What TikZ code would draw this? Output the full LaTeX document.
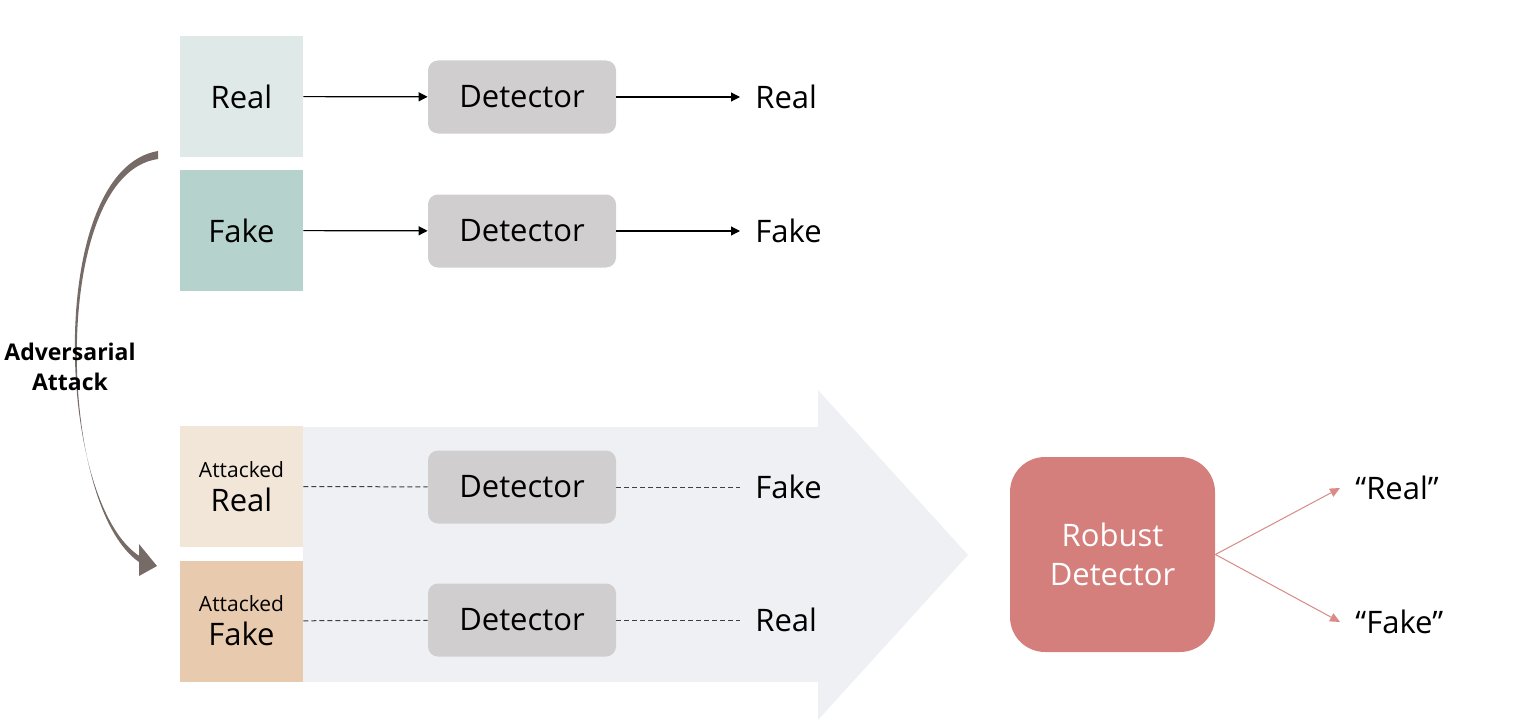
\documentclass[tikz,border=0pt]{standalone}
\usepackage{fontspec}
\setmainfont{Open Sans}
\usetikzlibrary{arrows.meta}

\definecolor{realcol}{HTML}{DFE9E7}
\definecolor{fakecol}{HTML}{B5D3CC}
\definecolor{atkrealcol}{HTML}{F1E6D8}
\definecolor{atkfakecol}{HTML}{E8CBAE}
\definecolor{detcol}{HTML}{D0CECE}
\definecolor{robustcol}{HTML}{D47F7C}
\definecolor{flowcol}{HTML}{EFF0F4}
\definecolor{attackcol}{HTML}{766B67}
\definecolor{splitcol}{HTML}{D98B88}

\tikzset{
  imgbox/.style={rectangle, minimum width=61.5pt, minimum height=60.5pt, inner sep=0pt, align=center, font=\fontsize{15.5}{19}\selectfont},
  detbox/.style={rectangle, rounded corners=5pt, fill=detcol, minimum width=94pt, minimum height=36.5pt, font=\fontsize{15.5}{19}\selectfont},
  outlabel/.style={anchor=west, inner xsep=7.5pt, inner ysep=0pt, font=\fontsize{15.5}{19}\selectfont},
  pass/.style={-{Triangle[length=4.5pt,width=4.5pt]}, line width=0.6pt},
  fooled/.style={dash pattern=on 2.5pt off 1.5pt, line width=0.5pt, draw=black!75},
  split/.style={-{Triangle[length=5pt,width=4.5pt]}, line width=0.5pt, draw=splitcol, fill=splitcol},
}

\begin{document}
\begin{tikzpicture}[x=0.5pt, y=-0.5pt]
\useasboundingbox (0,0) rectangle (1535,722);

% background arrow behind the attacked rows
\fill[flowcol] (303,427) -- (818,427) -- (818,390) -- (968,555) -- (818,720) -- (818,682) -- (303,682) -- cycle;

% inputs
\node (real) [imgbox, fill=realcol] at (241.5,96.5) {Real};
\node (fake) [imgbox, fill=fakecol] at (241.5,230.5) {Fake};
\node (atkreal) [imgbox, fill=atkrealcol] at (241.5,486.5) {{\fontsize{10.5}{12}\selectfont Attacked}\\[-2pt]Real};
\node (atkfake) [imgbox, fill=atkfakecol] at (241.5,621) {{\fontsize{10.5}{12}\selectfont Attacked}\\[-2pt]Fake};

% detectors
\node (det1) [detbox] at (522,97) {Detector};
\node (det2) [detbox] at (522,231) {Detector};
\node (det3) [detbox] at (522,487) {Detector};
\node (det4) [detbox] at (522,620) {Detector};

% predictions
\node (out1) [outlabel] at (740,97) {Real};
\node (out2) [outlabel] at (740,231) {Fake};
\node (out3) [outlabel] at (740,487) {Fake};
\node (out4) [outlabel] at (740,620) {Real};

\draw[pass] (real) -- (det1);
\draw[pass] (det1) -- (out1);
\draw[pass] (fake) -- (det2);
\draw[pass] (det2) -- (out2);
\draw[fooled] (atkreal) -- (det3);
\draw[fooled] (det3) -- (out3);
\draw[fooled] (atkfake) -- (det4);
\draw[fooled] (det4) -- (out4);

% robust detector
\node (robust) [rectangle, rounded corners=17.5pt, fill=robustcol, minimum width=102.5pt, minimum height=97.5pt, text=white, align=center, font=\fontsize{15.5}{19.5}\selectfont] at (1112.5,554.5) {Robust\\Detector};
\node (rreal) [outlabel] at (1340,488) {“Real”};
\node (rfake) [outlabel] at (1340,622) {“Fake”};

\draw[split] (robust.east) -- (rreal.west);
\draw[split] (robust.east) -- (rfake.west);

% adversarial attack (tapered arrow)
\coordinate (atkfrom) at (158,155);
\coordinate (atkto) at (157,566);
\fill[attackcol] ([yshift=2pt]atkfrom) .. controls (45,170) and (55,505) .. (141,557) -- (139,562) .. controls (56,505) and (50,174) .. ([yshift=-2pt]atkfrom) -- cycle;
\fill[attackcol] (atkto) -- (139,544) -- (139,576) -- cycle;
\node (atklabel) [align=center, font=\bfseries\fontsize{11.5}{15}\selectfont] at (70,367) {Adversarial\\Attack};
\end{tikzpicture}
\end{document}
